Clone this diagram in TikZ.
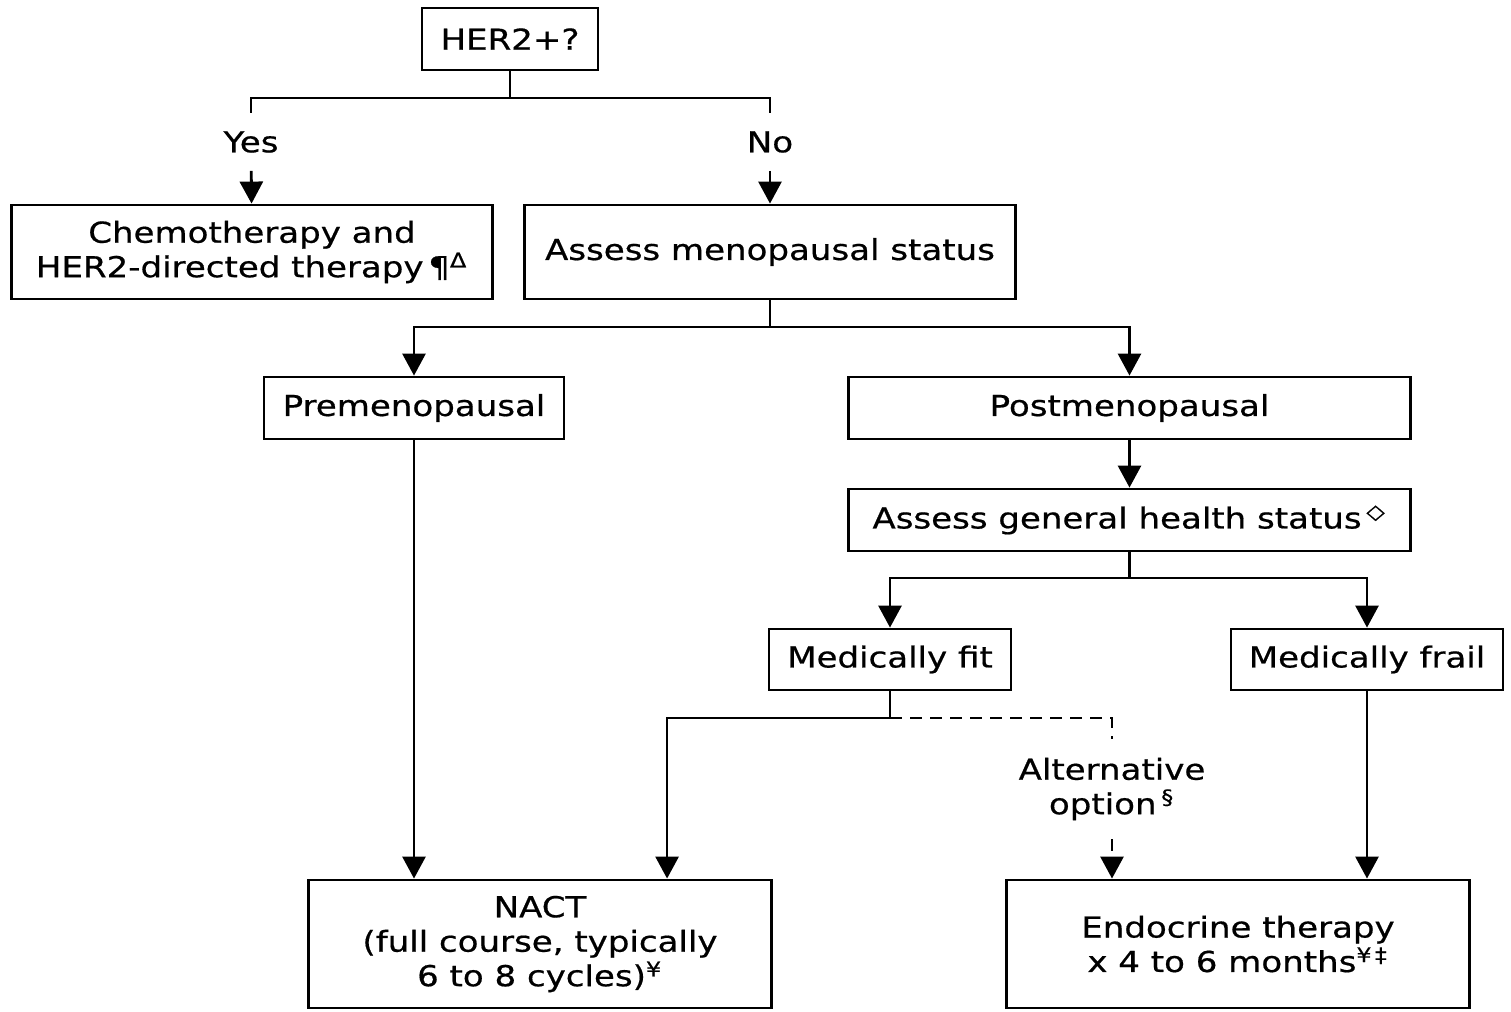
\documentclass[tikz,border=0pt]{standalone}
\usepackage{fontspec}
\setmainfont{DejaVu Sans}[FakeStretch=1.18, FakeBold=0.6]
\usetikzlibrary{positioning,arrows.meta}

\tikzset{
  box/.style={draw, align=center, inner sep=0pt},
  lbl/.style={align=center, inner sep=0pt},
  alt line/.style={dashed, dash pattern=on 1.2mm off 0.8mm},
}

\begin{document}
\begin{tikzpicture}[x=0.01cm, y=-0.01cm, line width=0.8pt,
    font=\fontsize{8.2}{9.8}\selectfont,
    >={Triangle[length=2.2mm, width=2.3mm]}]
    \useasboundingbox (0,0) rectangle (1511,1011);

    \node[box, minimum width=1.76cm, minimum height=0.62cm] (her2) at (510,39) {HER2+?};
    \node[lbl, minimum height=0.55cm] (yes) at (251,142) {Yes};
    \node[lbl, minimum height=0.55cm] (no) at (770,142) {No};
    \node[box, minimum width=4.8cm, minimum height=0.94cm] (chemo) at (252,252)
        {Chemotherapy and\\HER2-directed therapy\,¶\textsuperscript{Δ}};
    \node[box, minimum width=4.9cm, minimum height=0.94cm] (assess) at (770,252)
        {Assess menopausal status};
    \node[box, minimum width=3.0cm, minimum height=0.62cm] (pre) at (414,408) {Premenopausal};
    \node[box, minimum width=5.61cm, minimum height=0.62cm] (post) at (1129.5,408) {Postmenopausal};
    \node[box, minimum width=5.61cm, minimum height=0.62cm] (health) at (1129.5,520)
        {Assess general health status\,\textsuperscript{◇}};
    \node[box, minimum width=2.42cm, minimum height=0.61cm] (fit) at (890,659.5) {Medically fit};
    \node[box, minimum width=2.72cm, minimum height=0.61cm] (frail) at (1367,659.5) {Medically frail};
    \node[lbl, minimum height=0.98cm] (alt) at (1112,789) {Alternative\\option\,\textsuperscript{§}};
    \node[box, minimum width=4.62cm, minimum height=1.28cm] (nact) at (540,944)
        {NACT\\(full course, typically\\6 to 8 cycles)\textsuperscript{¥}};
    \node[box, minimum width=4.62cm, minimum height=1.28cm] (endo) at (1238,944)
        {Endocrine therapy\\x 4 to 6 months\textsuperscript{¥\,‡}};

    % branch points
    \coordinate (s1) at (510,98);
    \coordinate (s2) at (770,327);
    \coordinate (s3) at (1129.5,578);
    \coordinate (s4) at (890,718);

    \draw (her2) -- (s1) -| (yes.north);
    \draw (s1) -| (no.north);
    \draw[->] (yes) -- (chemo);
    \draw[->] (no) -- (assess);

    \draw (assess) -- (s2);
    \draw[->] (s2) -| (pre);
    \draw[->] (s2) -| (post);
    \draw[->] (post) -- (health);

    \draw (health) -- (s3);
    \draw[->] (s3) -| (fit);
    \draw[->] (s3) -| (frail);

    \draw[->] (pre) -- (pre |- nact.north);
    \draw (fit) -- (s4);
    \draw[->] (s4) -| ([xshift=1.27cm]nact.north);
    \draw[alt line] (s4) -| (alt.north);
    \draw[alt line, ->] (alt) -- (alt |- endo.north);
    \draw[->] (frail) -- (frail |- endo.north);
\end{tikzpicture}
\end{document}
